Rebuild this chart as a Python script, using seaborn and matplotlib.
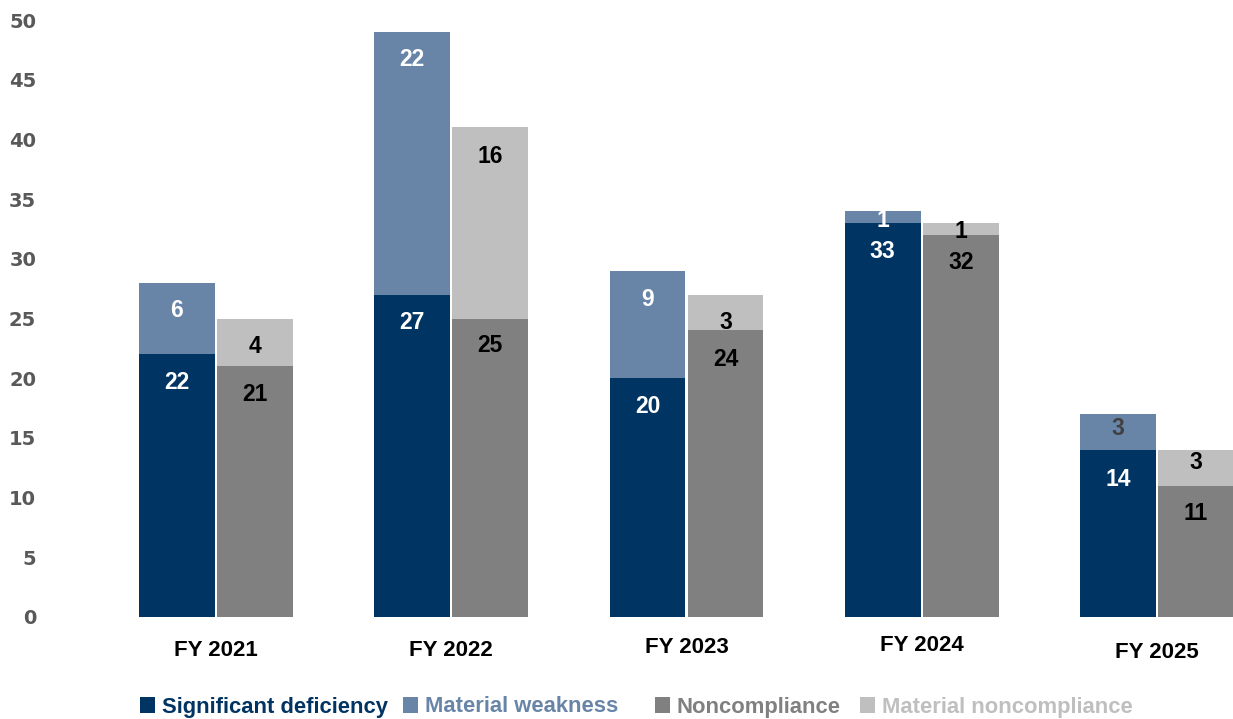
import matplotlib
matplotlib.use("Agg")
import matplotlib.pyplot as plt
import matplotlib.transforms as mtransforms
from matplotlib.patches import Patch
import seaborn as sns
import pandas as pd

# ---- data ----
years = ["FY 2021", "FY 2022", "FY 2023", "FY 2024", "FY 2025"]
significant_deficiency = [22, 27, 20, 33, 14]
material_weakness = [6, 22, 9, 1, 3]
noncompliance = [21, 25, 24, 32, 11]
material_noncompliance = [4, 16, 3, 1, 3]
series_names = ["Significant deficiency", "Material weakness",
                "Noncompliance", "Material noncompliance"]
y_ticks = [0, 5, 10, 15, 20, 25, 30, 35, 40, 45, 50]

# ---- style ----
C_SD = "#003462"
C_MW = "#6885A8"
C_NC = "#808080"
C_MNC = "#BFBFBF"

sns.set_theme(style="white")
plt.rcParams["font.family"] = ["Liberation Sans", "DejaVu Sans"]

rows = []
for i, y in enumerate(years):
    rows.append({"year": y, "pair": "A", "base": significant_deficiency[i],
                 "total": significant_deficiency[i] + material_weakness[i]})
    rows.append({"year": y, "pair": "B", "base": noncompliance[i],
                 "total": noncompliance[i] + material_noncompliance[i]})
df = pd.DataFrame(rows)

fig = plt.figure(figsize=(12.33, 7.19), dpi=100)
W, H = 1233, 719
ax_left_px, ax_right_px, ax_top_px, ax_bot_px = 50, 1233, 20, 617
ax = fig.add_axes([ax_left_px / W, (H - ax_bot_px) / H,
                   (ax_right_px - ax_left_px) / W, (ax_bot_px - ax_top_px) / H])

common = dict(x="year", hue="pair", order=years, hue_order=["A", "B"],
              dodge=True, width=0.664, gap=0.03, linewidth=0, legend=False,
              saturation=1, ax=ax, errorbar=None)
sns.barplot(data=df, y="total", palette=[C_MW, C_MNC], **common)
sns.barplot(data=df, y="base", palette=[C_SD, C_NC], **common)

ax.set_ylim(0, 50)
ax.set_xlim(-0.7056, 4.323)
ax.set_yticks(y_ticks)
ax.set_yticklabels([str(t) for t in y_ticks], fontfamily="DejaVu Sans",
                   fontweight="bold", fontsize=14, color="#595959")
ax.tick_params(axis="y", length=0, pad=10)
ax.tick_params(axis="x", length=0, pad=16.5)
ax.set_xticks(range(len(years)))
ax.set_xticklabels(years, fontweight="bold", fontsize=16, color="black")
# slight vertical offsets of category labels (pixels, up positive)
x_label_shift = [0, 0, 3, 5, -2]
for lab, s in zip(ax.get_xticklabels(), x_label_shift):
    lab.set_transform(lab.get_transform() +
                      mtransforms.ScaledTranslation(0, s / 100, fig.dpi_scale_trans))
ax.set_xlabel("")
ax.set_ylabel("")
for sp in ax.spines.values():
    sp.set_visible(False)
ax.grid(False)

# ---- value labels ----
top_vals = [material_weakness, material_noncompliance]
base_vals = [significant_deficiency, noncompliance]
base_colors = ["white", "black"]
top_colors = [["white"] * 4 + ["#404040"], ["black"] * 5]
top_offsets = [[28, 28, 29, 9, 14], [28, 29, 28, 9, 13]]
base_offsets = [[28, 28, 28, 29, 30], [28, 27, 29, 28, 28]]

for k in range(2):
    for i, p in enumerate(ax.containers[k].patches):
        xc = p.get_x() + p.get_width() / 2
        ax.annotate(str(top_vals[k][i]), xy=(xc, p.get_height()),
                    xytext=(0, -top_offsets[k][i]), textcoords="offset pixels",
                    ha="center", va="center", fontsize=16.5, fontweight="bold",
                    color=top_colors[k][i])
    for i, p in enumerate(ax.containers[k + 2].patches):
        xc = p.get_x() + p.get_width() / 2
        ax.annotate(str(base_vals[k][i]), xy=(xc, p.get_height()),
                    xytext=(0, -base_offsets[k][i]), textcoords="offset pixels",
                    ha="center", va="center", fontsize=16.5, fontweight="bold",
                    color=base_colors[k])

# ---- legend (one entry per legend to mimic irregular spacing) ----
cols = [C_SD, C_MW, C_NC, C_MNC]
text_start_px = [162, 425, 677, 882]
for name, c, tx in zip(series_names, cols, text_start_px):
    leg = fig.legend([Patch(facecolor=c, edgecolor="none")], [name],
                     loc="center left",
                     bbox_to_anchor=((tx - 22.5) / W, (H - 707) / H),
                     frameon=False, prop={"weight": "bold", "size": 15.8},
                     handlelength=0.72, handleheight=0.72, handletextpad=0.3,
                     borderpad=0, borderaxespad=0)
    for t in leg.get_texts():
        t.set_color(c)

fig.savefig("out.png", dpi=100)
